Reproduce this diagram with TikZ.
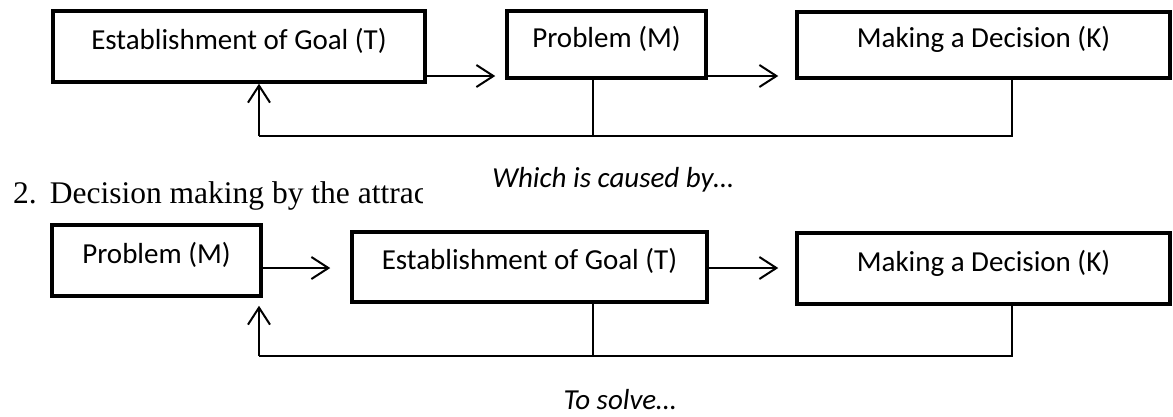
\documentclass[tikz,border=0pt]{standalone}
\usepackage{fontspec}
\setmainfont{Liberation Serif}
\setsansfont{Carlito}
\usetikzlibrary{arrows.meta, positioning, calc}
\tikzset{
    stagebox/.style={
        rectangle, draw=black, line width=3.5pt, fill=white,
        font=\sffamily\fontsize{29}{34}\selectfont, text=black,
        inner sep=0pt, text height=22pt, text depth=17pt
    },
    flow/.style={
        -{Straight Barb[length=17pt, width=22pt, line width=2pt]}, line width=1.5pt
    },
    link/.style={
        line width=1.5pt
    },
    caption/.style={
        font=\sffamily\itshape\fontsize{29}{34}\selectfont,
        anchor=base, inner sep=0pt
    },
}

\begin{document}
\begin{tikzpicture}[x=1pt, y=-1pt]
    \useasboundingbox (0,0) rectangle (1173,416);

    % Row 1: goal -> problem -> decision
    \node[stagebox, minimum width=372pt, minimum height=71pt] (goalA) at (239,46.5) {Establishment of Goal (T)};
    \node[stagebox, minimum width=199pt, minimum height=67pt] (probA) at (606.5,44.5) {Problem (M)};
    \node[stagebox, minimum width=373pt, minimum height=66pt] (decA) at (983.5,45) {Making a Decision (K)};

    \coordinate (rowA) at (0,76);
    \coordinate (busA) at (259,136);
    \coordinate (tapA) at (593,136);
    \coordinate (tapB) at (1012,136);

    \draw[flow] (goalA.east |- rowA) -- ([xshift=-10pt]probA.west |- rowA);
    \draw[flow] (probA.east |- rowA) -- ([xshift=-17pt]decA.west |- rowA);
    \draw[link] (tapA |- probA.south) -- (tapA);
    \draw[link] (tapB |- decA.south) -- (tapB) -- (busA);
    \draw[flow] (busA) -- (busA |- goalA.south);

    \node[caption] (causeA) at (613,187) {Which is caused by…};

    % Heading of the second scheme
    \begin{scope}
        \clip (0,160) rectangle (422,215);
        \node[anchor=base west, inner sep=0pt, font=\rmfamily\fontsize{31.5}{36}\selectfont] (headB) at (13,203) {2.\hspace{13pt}Decision making by the attrac};
    \end{scope}

    % Row 2: problem -> goal -> decision
    \node[stagebox, minimum width=209pt, minimum height=71pt] (probB) at (156.5,260.5) {Problem (M)};
    \node[stagebox, minimum width=355pt, minimum height=70pt] (goalB) at (529.5,267) {Establishment of Goal (T)};
    \node[stagebox, minimum width=373pt, minimum height=71pt] (decB) at (983.5,268.5) {Making a Decision (K)};

    \coordinate (rowB) at (0,268);
    \coordinate (busB) at (259,356);
    \coordinate (tapC) at (593,356);
    \coordinate (tapD) at (1012,356);

    \draw[flow] (probB.east |- rowB) -- ([xshift=-20pt]goalB.west |- rowB);
    \draw[flow] (goalB.east |- rowB) -- ([xshift=-17pt]decB.west |- rowB);
    \draw[link] (tapC |- goalB.south) -- (tapC);
    \draw[link] (tapD |- decB.south) -- (tapD) -- (busB);
    \draw[flow] (busB) -- ([yshift=-8pt]busB |- probB.south);

    \node[caption] (causeB) at (620,409) {To solve…};
\end{tikzpicture}
\end{document}
